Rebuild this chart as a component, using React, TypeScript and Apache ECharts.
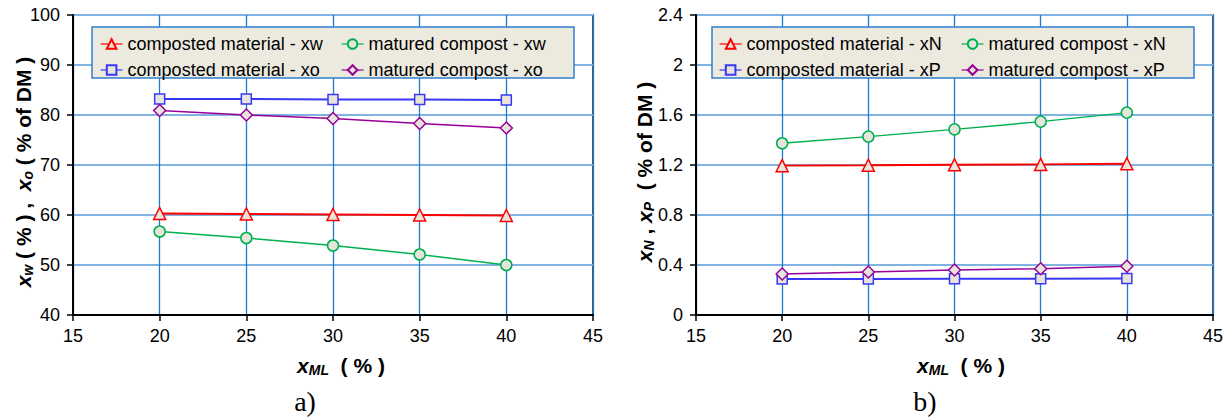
import React, { useEffect, useRef } from "react";
import * as echarts from "echarts";

// ---- data ----
const xValues = [20, 25, 30, 35, 40];
// panel a)
const compostedXw = [60.3, 60.2, 60.1, 60.0, 59.9];
const maturedXw = [56.7, 55.4, 53.9, 52.1, 50.0];
const compostedXo = [83.2, 83.2, 83.1, 83.1, 83.0];
const maturedXo = [80.9, 80.0, 79.3, 78.3, 77.4];
// panel b)
const compostedXN = [1.195, 1.198, 1.202, 1.205, 1.21];
const maturedXN = [1.374, 1.427, 1.485, 1.547, 1.619];
const compostedXP = [0.288, 0.289, 0.29, 0.291, 0.292];
const maturedXP = [0.328, 0.344, 0.36, 0.37, 0.39];

const namesA = [
  "composted material - xw",
  "composted material - xo",
  "matured compost - xw",
  "matured compost - xo",
];
const namesB = [
  "composted material - xN",
  "composted material - xP",
  "matured compost - xN",
  "matured compost - xP",
];

const FONT = "'Liberation Sans', Arial, sans-serif";
const MARKER_FILL = "#E7E5DB";
const RED = "#FF0000";
const BLUE = "#3838F5";
const GREEN = "#00B050";
const PURPLE = "#990099";

const pair = (ys: number[]) => xValues.map((x, i) => [x, ys[i]]);

function mkSeries(
  name: string,
  data: number[],
  idx: number,
  color: string,
  symbol: string,
  size: number,
  width: number
) {
  return {
    type: "line",
    name,
    xAxisIndex: idx,
    yAxisIndex: idx,
    data: pair(data),
    symbol,
    symbolSize: size,
    showAllSymbol: true,
    lineStyle: { color, width },
    itemStyle: { color: MARKER_FILL, borderColor: color, borderWidth: 1.5 },
    z: 3,
  };
}

function xAxisCfg(gridIndex: number) {
  return {
    type: "value",
    gridIndex,
    min: 15,
    max: 45,
    interval: 5,
    axisLine: { show: true, onZero: false, lineStyle: { color: "#000", width: 2 } },
    axisTick: { show: true, inside: false, length: 6, lineStyle: { color: "#000", width: 1.5 } },
    axisLabel: { color: "#000", fontSize: 18, fontFamily: FONT, margin: 12 },
    splitLine: { show: true, lineStyle: { color: "#1E7BD2", width: 1.3 } },
  };
}

function yAxisCfg(gridIndex: number, min: number, max: number, interval: number) {
  return {
    type: "value",
    gridIndex,
    min,
    max,
    interval,
    axisLine: { show: true, onZero: false, lineStyle: { color: "#000", width: 2 } },
    axisTick: { show: true, inside: false, length: 6, lineStyle: { color: "#000", width: 1.5 } },
    axisLabel: { color: "#000", fontSize: 18, fontFamily: FONT, margin: 13 },
    splitLine: { show: true, lineStyle: { color: "#80B3E2", width: 2 } },
  };
}

function legendCfg(data: string[], left: number) {
  return {
    data,
    left,
    top: 30,
    orient: "vertical",
    itemWidth: 22,
    itemHeight: 12,
    itemGap: 8,
    z: 20,
    textStyle: { color: "#000", fontSize: 18, fontFamily: FONT, lineHeight: 18 },
    lineStyle: { width: 1.2 },
    selectedMode: false,
  };
}

const titleRich = {
  n: { fontSize: 21, fontWeight: "bold", fontFamily: FONT, fill: "#000", lineHeight: 24 },
  x: {
    fontSize: 21,
    fontWeight: "bold",
    fontStyle: "italic",
    fontFamily: FONT,
    fill: "#000",
    lineHeight: 24,
  },
  s: {
    fontSize: 14,
    fontWeight: "bold",
    fontStyle: "italic",
    fontFamily: FONT,
    fill: "#000",
    lineHeight: 12,
    verticalAlign: "bottom",
  },
};

export default function App() {
  const ref = useRef<HTMLDivElement>(null);

  useEffect(() => {
    if (!ref.current) return;
    const chart = echarts.init(ref.current, undefined, { renderer: "svg" });

    const option: any = {
      animation: false,
      backgroundColor: "#fff",
      grid: [
        { left: 73, top: 15, width: 520, height: 300, show: true, borderColor: "#1a1a1a", borderWidth: 1.5, backgroundColor: "transparent" },
        { left: 696, top: 15, width: 517, height: 300, show: true, borderColor: "#1a1a1a", borderWidth: 1.5, backgroundColor: "transparent" },
      ],
      xAxis: [xAxisCfg(0), xAxisCfg(1)],
      yAxis: [yAxisCfg(0, 40, 100, 10), yAxisCfg(1, 0, 2.4, 0.4)],
      legend: [
        legendCfg([namesA[0], namesA[1]], 95),
        legendCfg([namesA[2], namesA[3]], 336),
        legendCfg([namesB[0], namesB[1]], 714),
        legendCfg([namesB[2], namesB[3]], 956),
      ],
      series: [
        mkSeries(namesA[1], compostedXo, 0, BLUE, "rect", 10, 2),
        mkSeries(namesA[3], maturedXo, 0, PURPLE, "diamond", 12, 1.5),
        mkSeries(namesA[2], maturedXw, 0, GREEN, "circle", 11, 1.5),
        mkSeries(namesA[0], compostedXw, 0, RED, "triangle", 12, 2),
        mkSeries(namesB[1], compostedXP, 1, BLUE, "rect", 10, 2),
        mkSeries(namesB[3], maturedXP, 1, PURPLE, "diamond", 12, 1.5),
        mkSeries(namesB[2], maturedXN, 1, GREEN, "circle", 11, 1.5),
        mkSeries(namesB[0], compostedXN, 1, RED, "triangle", 12, 2),
      ],
      graphic: [
        {
          type: "rect",
          z: 10,
          shape: { x: 92, y: 27, width: 482, height: 51 },
          style: { fill: "#ECE9DF", stroke: "#2F7FD0", lineWidth: 1.5 },
        },
        {
          type: "rect",
          z: 10,
          shape: { x: 712, y: 27, width: 482, height: 51 },
          style: { fill: "#ECE9DF", stroke: "#2F7FD0", lineWidth: 1.5 },
        },
        {
          type: "text",
          z: 10,
          x: 23,
          y: 172,
          rotation: Math.PI / 2,
          style: {
            text: "{x|x}{s|w}{n| ( % ) ,  }{x|x}{s|o}{n| ( % of DM )}",
            rich: titleRich,
            align: "center",
            verticalAlign: "middle",
          },
        },
        {
          type: "text",
          z: 10,
          x: 644,
          y: 172,
          rotation: Math.PI / 2,
          style: {
            text: "{x|x}{s|N}{n| , }{x|x}{s|P}{n|  ( % of DM )}",
            rich: titleRich,
            align: "center",
            verticalAlign: "middle",
          },
        },
        {
          type: "text",
          z: 10,
          x: 341,
          y: 365,
          style: {
            text: "{x|x}{s|ML}{n|  ( % )}",
            rich: titleRich,
            align: "center",
            verticalAlign: "middle",
          },
        },
        {
          type: "text",
          z: 10,
          x: 961,
          y: 365,
          style: {
            text: "{x|x}{s|ML}{n|  ( % )}",
            rich: titleRich,
            align: "center",
            verticalAlign: "middle",
          },
        },
        {
          type: "text",
          z: 10,
          x: 305,
          y: 401,
          style: {
            text: "a)",
            fontSize: 28,
            fontFamily: "'Liberation Serif', 'Times New Roman', serif",
            fill: "#000",
            align: "center",
            verticalAlign: "middle",
          },
        },
        {
          type: "text",
          z: 10,
          x: 925,
          y: 401,
          style: {
            text: "b)",
            fontSize: 28,
            fontFamily: "'Liberation Serif', 'Times New Roman', serif",
            fill: "#000",
            align: "center",
            verticalAlign: "middle",
          },
        },
      ],
    };

    chart.setOption(option);
    return () => chart.dispose();
  }, []);

  return (
    <div
      ref={ref}
      style={{ position: "fixed", left: 0, top: 0, width: 1231, height: 419, background: "#fff" }}
    />
  );
}
